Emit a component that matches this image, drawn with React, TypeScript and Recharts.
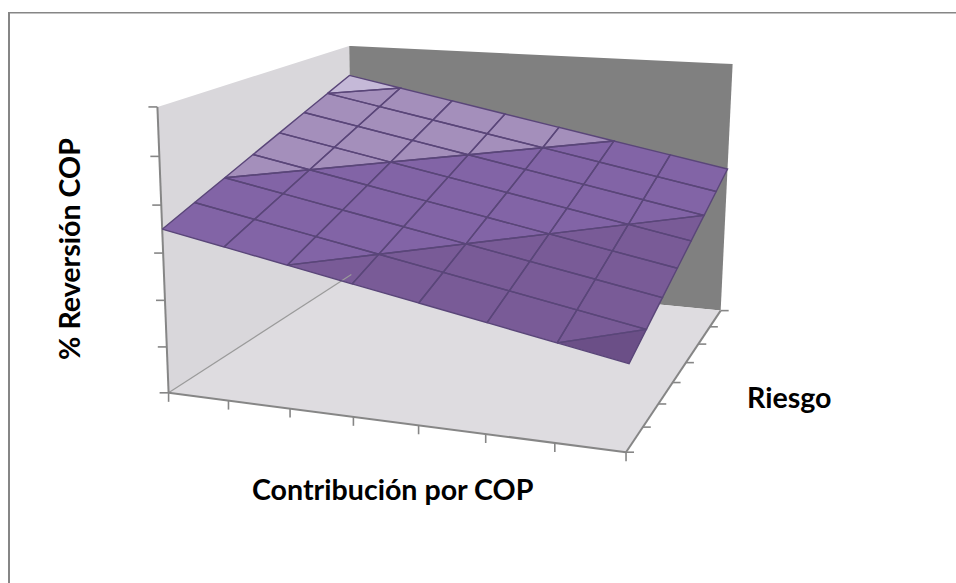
import React from 'react'
import { Area, ComposedChart, Line, XAxis, YAxis } from 'recharts'

const WIDTH = 956
const HEIGHT = 583

// Surface heights in axis units: one row per Riesgo step, one column per Contribución step
const riesgo0 = [3.5, 3.25, 3, 2.75, 2.5, 2.25, 2, 1.75]
const riesgo1 = [3.75, 3.5, 3.25, 3, 2.75, 2.5, 2.25, 2]
const riesgo2 = [4, 3.75, 3.5, 3.25, 3, 2.75, 2.5, 2.25]
const riesgo3 = [4.25, 4, 3.75, 3.5, 3.25, 3, 2.75, 2.5]
const riesgo4 = [4.5, 4.25, 4, 3.75, 3.5, 3.25, 3, 2.75]
const riesgo5 = [4.75, 4.5, 4.25, 4, 3.75, 3.5, 3.25, 3]
const riesgo6 = [5, 4.75, 4.5, 4.25, 4, 3.75, 3.5, 3.25]
const riesgo7 = [5.25, 5, 4.75, 4.5, 4.25, 4, 3.75, 3.5]
const surface = [riesgo0, riesgo1, riesgo2, riesgo3, riesgo4, riesgo5, riesgo6, riesgo7]

const contribucionTicks = [0, 1, 2, 3, 4, 5, 6, 7]
const riesgoTicks = [0, 1, 2, 3, 4, 5, 6, 7]
const reversionTicks = [0, 1, 2, 3, 4, 5, 6]

// Value bands: [from, to, fill]
const bands: [number, number, string][] = [
  [1, 2, '#6b4f87'],
  [2, 3, '#795b97'],
  [3, 4, '#8264a6'],
  [4, 5, '#a48fbb'],
  [5, 6, '#c5b9d8'],
]

const U = 7
const V = 7
const Z = 6

// Where the corners of the box land on the page, used to calibrate the camera
const calibration: [number, number, number, number, number][] = [
  [0, 0, 0, 169.3, 392.3],
  [U, 0, 0, 626, 452.7],
  [U, V, 0, 721, 310],
  [0, V, 0, 350.5, 275],
  [0, 0, Z, 156.7, 107],
  [0, V, Z, 350, 45.7],
  [U, V, Z, 732.3, 64.3],
]

function solve(a: number[][], b: number[]) {
  const n = b.length
  const m = a.map((row, i) => [...row, b[i]])
  for (let c = 0; c < n; c++) {
    let p = c
    for (let r = c + 1; r < n; r++) if (Math.abs(m[r][c]) > Math.abs(m[p][c])) p = r
    const tmp = m[c]
    m[c] = m[p]
    m[p] = tmp
    for (let r = 0; r < n; r++) {
      if (r === c) continue
      const f = m[r][c] / m[c][c]
      for (let k = c; k <= n; k++) m[r][k] -= f * m[c][k]
    }
  }
  return m.map((row, i) => row[n] / row[i])
}

// Least squares fit of a 3x4 projection matrix (last term fixed to 1)
function fitCamera() {
  const rows: number[][] = []
  const rhs: number[] = []
  calibration.forEach(([u, v, z, px, py]) => {
    const [a, b, c, x, y] = [u / U, v / V, z / Z, px / 1000, py / 1000]
    rows.push([a, b, c, 1, 0, 0, 0, 0, -x * a, -x * b, -x * c])
    rhs.push(x)
    rows.push([0, 0, 0, 0, a, b, c, 1, -y * a, -y * b, -y * c])
    rhs.push(y)
  })
  const ata = Array.from({ length: 11 }, (_, i) =>
    Array.from({ length: 11 }, (_, j) => rows.reduce((s, r) => s + r[i] * r[j], 0)),
  )
  const atb = Array.from({ length: 11 }, (_, i) => rows.reduce((s, r, k) => s + r[i] * rhs[k], 0))
  return solve(ata, atb)
}

const cam = fitCamera()

type Pt = { x: number; y: number }
type Node3 = { u: number; v: number; z: number }

function project(u: number, v: number, z: number): Pt {
  const [a, b, c] = [u / U, v / V, z / Z]
  const w = cam[8] * a + cam[9] * b + cam[10] * c + 1
  return {
    x: (1000 * (cam[0] * a + cam[1] * b + cam[2] * c + cam[3])) / w,
    y: (1000 * (cam[4] * a + cam[5] * b + cam[6] * c + cam[7])) / w,
  }
}

// Keep the part of a cell on one side of a height level
function clip(poly: Node3[], level: number, above: boolean) {
  const inside = (n: Node3) => (above ? n.z >= level : n.z <= level)
  const out: Node3[] = []
  poly.forEach((cur, i) => {
    const next = poly[(i + 1) % poly.length]
    if (inside(cur)) out.push(cur)
    if (inside(cur) !== inside(next)) {
      const t = (level - cur.z) / (next.z - cur.z)
      out.push({
        u: cur.u + t * (next.u - cur.u),
        v: cur.v + t * (next.v - cur.v),
        z: level,
      })
    }
  })
  return out
}

// Range rows for an Area that fills a convex polygon
function toRangeRows(poly: Pt[]) {
  const xs = Array.from(new Set(poly.map((p) => p.x))).sort((a, b) => a - b)
  return xs.map((x) => {
    const ys: number[] = []
    poly.forEach((p, i) => {
      const q = poly[(i + 1) % poly.length]
      if (x < Math.min(p.x, q.x) || x > Math.max(p.x, q.x)) return
      if (p.x === q.x) ys.push(p.y, q.y)
      else ys.push(p.y + ((x - p.x) / (q.x - p.x)) * (q.y - p.y))
    })
    return { x, range: [Math.min(...ys), Math.max(...ys)] }
  })
}

function polyArea(poly: Pt[]) {
  let s = 0
  poly.forEach((p, i) => {
    const q = poly[(i + 1) % poly.length]
    s += p.x * q.y - q.x * p.y
  })
  return Math.abs(s) / 2
}

type Facet = { fill: string; pts: Pt[] }

const facets: Facet[] = []
for (let v = 0; v < V; v++) {
  for (let u = 0; u < U; u++) {
    const cell: Node3[] = [
      { u, v, z: surface[v][u] },
      { u: u + 1, v, z: surface[v][u + 1] },
      { u: u + 1, v: v + 1, z: surface[v + 1][u + 1] },
      { u, v: v + 1, z: surface[v + 1][u] },
    ]
    bands.forEach(([from, to, fill]) => {
      const part = clip(clip(cell, from, true), to, false)
      if (part.length < 3) return
      const pts = part.map((n) => project(n.u, n.v, n.z))
      if (polyArea(pts) > 1) facets.push({ fill, pts })
    })
  }
}

const boxCorner = (u: number, v: number, z: number) => project(u, v, z)
const leftWall = [boxCorner(0, 0, 0), boxCorner(0, V, 0), boxCorner(0, V, Z), boxCorner(0, 0, Z)]
const backWall = [boxCorner(0, V, 0), boxCorner(U, V, 0), boxCorner(U, V, Z), boxCorner(0, V, Z)]
const floor = [boxCorner(0, 0, 0), boxCorner(U, 0, 0), boxCorner(U, V, 0), boxCorner(0, V, 0)]

const offset = (p: Pt, dx: number, dy: number): Pt => ({ x: p.x + dx, y: p.y + dy })

const axisLines: Pt[][] = [
  [boxCorner(0, 0, 0), boxCorner(0, 0, Z)],
  [boxCorner(0, 0, 0), boxCorner(U, 0, 0)],
  [boxCorner(U, 0, 0), boxCorner(U, V, 0)],
  ...reversionTicks.map((z) => [boxCorner(0, 0, z), offset(boxCorner(0, 0, z), -9, 0)]),
  ...contribucionTicks.map((u) => [boxCorner(u, 0, 0), offset(boxCorner(u, 0, 0), 0, 9)]),
  ...riesgoTicks.map((v) => [boxCorner(U, v, 0), offset(boxCorner(U, v, 0), 8, 0)]),
]

const frameLines: { pts: Pt[]; width: number }[] = [
  { pts: [{ x: 9, y: 12 }, { x: 9, y: HEIGHT }], width: 2 },
  { pts: [{ x: 8, y: 12.8 }, { x: WIDTH, y: 12.8 }], width: 1.5 },
]

const noDot = { dot: false, activeDot: false, isAnimationActive: false, legendType: 'none' as const }

function fillPoly(key: string, pts: Pt[], fill: string) {
  return (
    <Area
      key={key}
      data={toRangeRows(pts)}
      dataKey="range"
      type="linear"
      fill={fill}
      fillOpacity={1}
      stroke="none"
      {...noDot}
    />
  )
}

function strokeLine(key: string, pts: Pt[], stroke: string, width: number) {
  return (
    <Line
      key={key}
      data={pts}
      dataKey="y"
      type="linear"
      stroke={stroke}
      strokeWidth={width}
      {...noDot}
    />
  )
}

const labelStyle = { fontFamily: 'Lato, sans-serif', fontWeight: 700, fontSize: 28.6, fill: '#000' }

export default function App() {
  return (
    <div style={{ position: 'absolute', left: 0, top: 0, width: WIDTH, height: HEIGHT }}>
      <ComposedChart width={WIDTH} height={HEIGHT} margin={{ top: 0, right: 0, bottom: 0, left: 0 }}>
        <XAxis dataKey="x" type="number" domain={[0, WIDTH]} hide />
        <YAxis type="number" domain={[0, HEIGHT]} reversed hide />

        {frameLines.map((f, i) => strokeLine(`frame-${i}`, f.pts, '#868686', f.width))}

        {fillPoly('back-wall', backWall, '#808080')}
        {fillPoly('left-wall', leftWall, '#d9d7db')}
        {fillPoly('floor', floor, '#dedce0')}
        {strokeLine('floor-edge', [floor[0], floor[3]], '#9a9a9a', 1.2)}

        {axisLines.map((pts, i) => strokeLine(`axis-${i}`, pts, '#868686', i < 3 ? 2 : 1.6))}

        {facets.map((f, i) => fillPoly(`facet-${i}`, f.pts, f.fill))}
        {facets.map((f, i) => strokeLine(`mesh-${i}`, [...f.pts, f.pts[0]], '#5a4679', 1.4))}

        <text x={252} y={499.5} {...labelStyle}>Contribución por COP</text>
        <text x={747} y={408} {...labelStyle}>Riesgo</text>
        <text x={80} y={360} transform="rotate(-90 80 360)" {...labelStyle}>% Reversión COP</text>
      </ComposedChart>
    </div>
  )
}
